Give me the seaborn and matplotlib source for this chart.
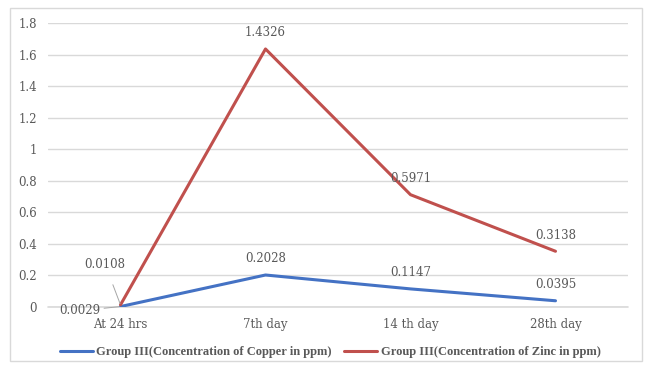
import matplotlib
matplotlib.use("Agg")
import matplotlib.pyplot as plt
import seaborn as sns
import pandas as pd
import numpy as np

# Sampling points and measured concentrations (ppm)
periods = ["At 24 hrs", "7th day", "14 th day", "28th day"]
copper = [0.0029, 0.2028, 0.1147, 0.0395]
zinc = [0.0108, 1.4326, 0.5971, 0.3138]
series_names = ["Group III(Concentration of Copper in ppm)",
                "Group III(Concentration of Zinc in ppm)"]
y_ticks = [0, 0.2, 0.4, 0.6, 0.8, 1, 1.2, 1.4, 1.6, 1.8]

BLUE = "#4472C4"
RED = "#C0504D"
TXT = "#595959"

sns.set_theme(style="white")
plt.rcParams["font.family"] = ["DejaVu Serif"]

# stacked line layout: zinc sits on top of copper
copper_arr = np.array(copper)
zinc_top = copper_arr + np.array(zinc)
df = pd.DataFrame({
    "period": periods * 2,
    "value": list(copper_arr) + list(zinc_top),
    "series": [series_names[0]] * 4 + [series_names[1]] * 4,
})

fig = plt.figure(figsize=(6.5, 3.69), dpi=100)
ax = fig.add_axes([48 / 650, 1 - 307 / 369, 580 / 650, (307 - 23) / 369])

sns.lineplot(data=df, x="period", y="value", hue="series", sort=False,
             palette=[BLUE, RED], linewidth=2.2, ax=ax, legend=False)

ax.set_ylim(0, 1.8)
ax.set_xlim(-0.5, 3.5)
ax.set_yticks(y_ticks)
ax.set_yticklabels([f"{t:g}" for t in y_ticks])
ax.set_xlabel("")
ax.set_ylabel("")
ax.grid(axis="y", color="#D9D9D9", linewidth=1)
ax.grid(axis="x", visible=False)
for s in ax.spines.values():
    s.set_visible(False)
ax.axhline(0, color="#D9D9D9", linewidth=1.2, zorder=0, clip_on=False)
ax.tick_params(axis="both", length=0, labelsize=8.5, labelcolor=TXT)
ax.tick_params(axis="y", pad=8)
ax.tick_params(axis="x", pad=8)

# value labels above each point
lab_kw = dict(textcoords="offset points", ha="center", va="center",
              fontsize=8.5, color=TXT)
for i in range(1, 4):
    ax.annotate(f"{copper[i]:.4f}", (i, copper_arr[i]), xytext=(0, 12), **lab_kw)
    ax.annotate(f"{zinc[i]:.4f}", (i, zinc_top[i]), xytext=(0, 11.5), **lab_kw)

# first-point labels pulled aside with leader lines
ax.annotate(f"{copper[0]:.4f}", (0, copper_arr[0]), xytext=(-29, -3), **lab_kw,
            arrowprops=dict(arrowstyle="-", color="#A6A6A6", lw=0.7,
                            shrinkA=19, shrinkB=1))
ax.annotate(f"{zinc[0]:.4f}", (0, zinc_top[0]), xytext=(-11, 29), **lab_kw,
            arrowprops=dict(arrowstyle="-", color="#A6A6A6", lw=0.7,
                            shrinkA=8, shrinkB=1))

# outer chart frame
fig.patches.append(plt.Rectangle((10 / 650, 8 / 369), 632 / 650, 353 / 369,
                                 transform=fig.transFigure, fill=False,
                                 edgecolor="#D9D9D9", linewidth=1))

handles = [plt.Line2D([], [], color=BLUE, linewidth=2.2),
           plt.Line2D([], [], color=RED, linewidth=2.2)]
fig.legend(handles, series_names, loc="center", bbox_to_anchor=(0.508, 1 - 352 / 369),
           ncol=2, frameon=False, handlelength=2.6, handletextpad=0.3,
           columnspacing=1.0,
           prop=dict(family="Liberation Serif", weight="bold", size=9),
           labelcolor=TXT)

fig.savefig("out.png", dpi=100, facecolor="white")
